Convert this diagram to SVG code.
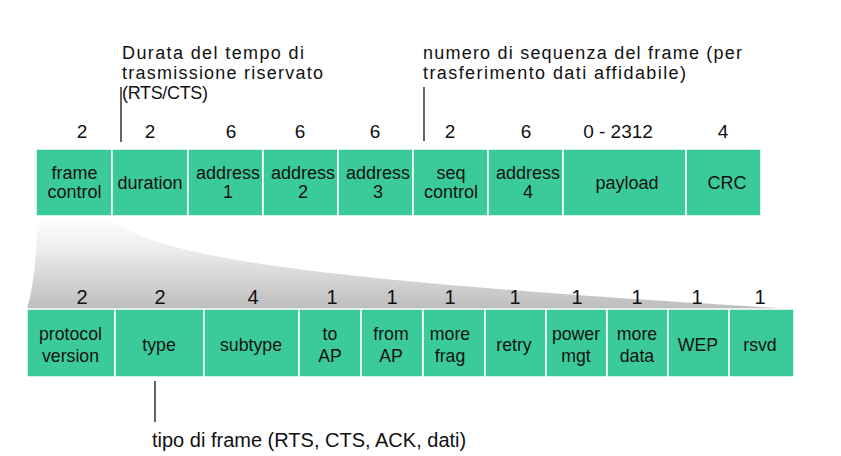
<svg xmlns="http://www.w3.org/2000/svg" width="841" height="456" viewBox="0 0 841 456">
<defs>
<linearGradient id="flare" x1="0" y1="218" x2="0" y2="309" gradientUnits="userSpaceOnUse">
<stop offset="0" stop-color="#ffffff"/>
<stop offset="0.35" stop-color="#ececec"/>
<stop offset="1" stop-color="#bdbdbd"/>
</linearGradient>
</defs>
<style>
.cell{fill:#3bcb9b;stroke:#ffffff;stroke-width:1.5}
.t{font-family:"Liberation Sans",Arial,sans-serif;fill:#111;text-anchor:middle}
.top{font-size:18px}
.num{font-size:19px}
.bot{font-size:17.7px}
.bnum{font-size:20px}
.head{font-family:"Liberation Sans",Arial,sans-serif;font-size:18px;fill:#111}
.cap{font-family:"Liberation Sans",Arial,sans-serif;font-size:20px;fill:#111}
.ln{stroke:#111;stroke-width:1.3;fill:none}
</style>
<rect width="841" height="456" fill="#ffffff"/>

<path id="flare-shape" d="M 37 218 L 112 218 C 150 256 300 280 794 309 L 27 309 Q 37 275 37 218 Z" fill="url(#flare)"/>

<g id="heading-duration">
<text class="head" x="122" y="59" textLength="182" lengthAdjust="spacing">Durata del tempo di</text>
<text class="head" x="122" y="79.2" textLength="201" lengthAdjust="spacing">trasmissione riservato</text>
<text class="head" x="122" y="99.4" textLength="86" lengthAdjust="spacing">(RTS/CTS)</text>
</g>
<g id="heading-seq">
<text class="head" x="423" y="59" textLength="319" lengthAdjust="spacing">numero di sequenza del frame (per</text>
<text class="head" x="423" y="79.2" textLength="263" lengthAdjust="spacing">trasferimento dati affidabile)</text>
</g>

<g id="top-sizes" class="t num">
<text x="82" y="138">2</text>
<text x="150" y="138">2</text>
<text x="231" y="138">6</text>
<text x="300" y="138">6</text>
<text x="375" y="138">6</text>
<text x="450" y="138">2</text>
<text x="526" y="138">6</text>
<text x="618" y="138">0 - 2312</text>
<text x="723" y="138">4</text>
</g>

<g id="f-frame-control"><rect class="cell" x="36" y="149" width="76" height="67"/><text class="t top" x="74.5" y="179">frame</text><text class="t top" x="74.5" y="198">control</text></g>
<g id="f-duration"><rect class="cell" x="112" y="149" width="76" height="67"/><text class="t top" x="150" y="188.5">duration</text></g>
<g id="f-address1"><rect class="cell" x="188" y="149" width="75" height="67"/><text class="t top" x="228" y="179">address</text><text class="t top" x="228" y="198">1</text></g>
<g id="f-address2"><rect class="cell" x="263" y="149" width="75" height="67"/><text class="t top" x="303" y="179">address</text><text class="t top" x="303" y="198">2</text></g>
<g id="f-address3"><rect class="cell" x="338" y="149" width="75" height="67"/><text class="t top" x="378" y="179">address</text><text class="t top" x="378" y="198">3</text></g>
<g id="f-seq-control"><rect class="cell" x="413" y="149" width="75" height="67"/><text class="t top" x="451" y="179">seq</text><text class="t top" x="451" y="198">control</text></g>
<g id="f-address4"><rect class="cell" x="488" y="149" width="75" height="67"/><text class="t top" x="528" y="179">address</text><text class="t top" x="528" y="198">4</text></g>
<g id="f-payload"><rect class="cell" x="563" y="149" width="123" height="67"/><text class="t top" x="627" y="188.5">payload</text></g>
<g id="f-crc"><rect class="cell" x="686" y="149" width="75" height="67"/><text class="t top" x="727" y="188.5">CRC</text></g>

<g id="bottom-sizes" class="t bnum">
<text x="82" y="304">2</text>
<text x="160" y="304">2</text>
<text x="253" y="304">4</text>
<text x="332" y="304">1</text>
<text x="392" y="304">1</text>
<text x="450" y="304">1</text>
<text x="515" y="304">1</text>
<text x="577" y="304">1</text>
<text x="637" y="304">1</text>
<text x="697" y="304">1</text>
<text x="760" y="304">1</text>
</g>

<g id="c-protocol-version"><rect class="cell" x="27" y="309" width="88" height="68"/><text class="t bot" x="70.5" y="339.5">protocol</text><text class="t bot" x="70.5" y="361.5">version</text></g>
<g id="c-type"><rect class="cell" x="115" y="309" width="89" height="68"/><text class="t bot" x="159" y="350.5">type</text></g>
<g id="c-subtype"><rect class="cell" x="204" y="309" width="95" height="68"/><text class="t bot" x="251" y="350.5">subtype</text></g>
<g id="c-to-ap"><rect class="cell" x="299" y="309" width="62" height="68"/><text class="t bot" x="330" y="339.5">to</text><text class="t bot" x="330" y="361.5">AP</text></g>
<g id="c-from-ap"><rect class="cell" x="361" y="309" width="62" height="68"/><text class="t bot" x="391" y="339.5">from</text><text class="t bot" x="391" y="361.5">AP</text></g>
<g id="c-more-frag"><rect class="cell" x="423" y="309" width="62" height="68"/><text class="t bot" x="450" y="339.5">more</text><text class="t bot" x="450" y="361.5">frag</text></g>
<g id="c-retry"><rect class="cell" x="485" y="309" width="61" height="68"/><text class="t bot" x="514" y="350.5">retry</text></g>
<g id="c-power-mgt"><rect class="cell" x="546" y="309" width="61" height="68"/><text class="t bot" x="576" y="339.5">power</text><text class="t bot" x="576" y="361.5">mgt</text></g>
<g id="c-more-data"><rect class="cell" x="607" y="309" width="61" height="68"/><text class="t bot" x="637" y="339.5">more</text><text class="t bot" x="637" y="361.5">data</text></g>
<g id="c-wep"><rect class="cell" x="668" y="309" width="61" height="68"/><text class="t bot" x="698" y="350.5">WEP</text></g>
<g id="c-rsvd"><rect class="cell" x="729" y="309" width="65" height="68"/><text class="t bot" x="760" y="350.5">rsvd</text></g>

<g id="connectors">
<line class="ln" x1="121" y1="87" x2="121" y2="142"/>
<line class="ln" x1="424" y1="87" x2="424" y2="141"/>
<line class="ln" x1="155" y1="381" x2="155" y2="422"/>
</g>

<g id="caption-type">
<text class="cap" x="152" y="447">tipo di frame (RTS, CTS, ACK, dati)</text>
</g>
</svg>
